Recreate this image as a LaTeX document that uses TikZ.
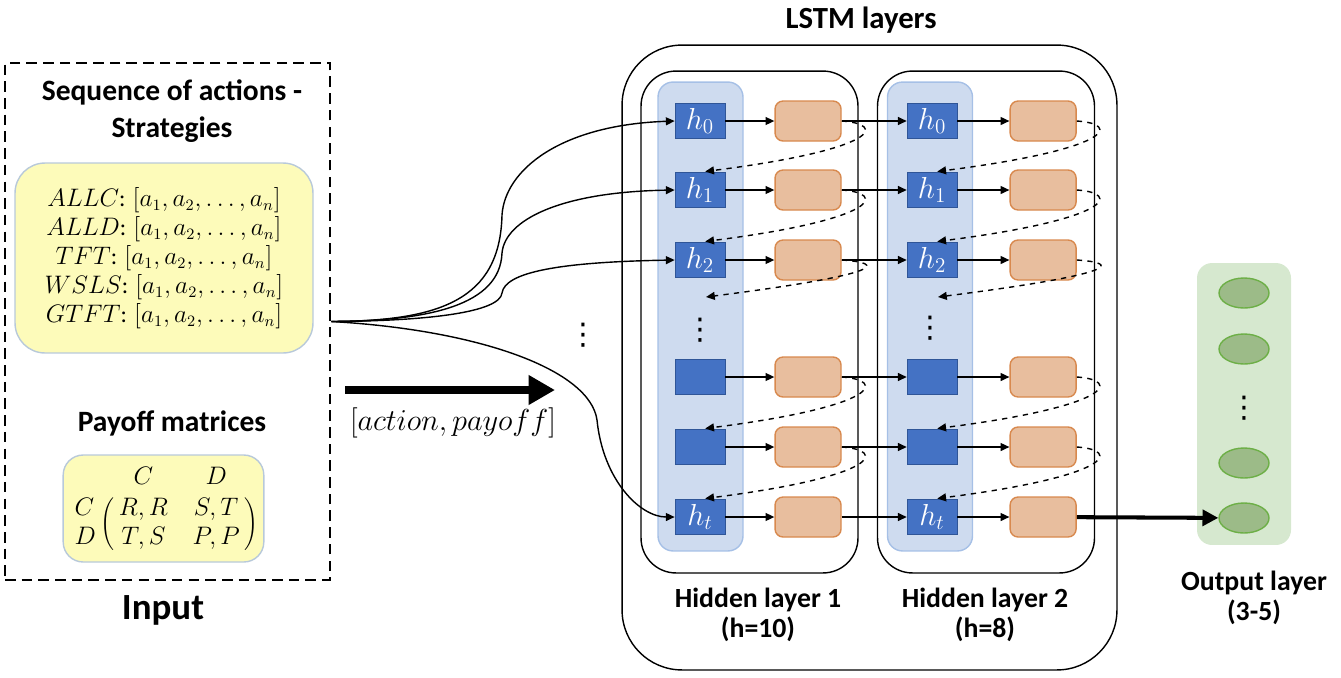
\documentclass[tikz,border=0pt]{standalone}
\usepackage[no-math]{fontspec}
\setmainfont{Carlito}
\newfontfamily\dotsfont{DejaVu Sans}
\usetikzlibrary{positioning, shapes, calc, arrows.meta}

\definecolor{hblue}{HTML}{4472C4}
\definecolor{hborder}{HTML}{2F5597}
\definecolor{colfill}{HTML}{CEDBEF}
\definecolor{coldraw}{HTML}{A6C0E6}
\definecolor{cellfill}{HTML}{E8BE9E}
\definecolor{celldraw}{HTML}{D8894E}
\definecolor{stratfill}{HTML}{FDFBBA}
\definecolor{stratdraw}{HTML}{B8C9DA}
\definecolor{outfill}{HTML}{D6E8CF}
\definecolor{unitfill}{HTML}{9CBB88}
\definecolor{unitdraw}{HTML}{6DAF47}

\begin{document}
\begin{tikzpicture}[x=0.02cm, y=-0.02cm,
                    >={Triangle[length=5pt, width=4.5pt]},
                    hunit/.style={rectangle, fill=hblue, draw=hborder, minimum width=1cm, minimum height=0.7cm, inner sep=0pt, text=white, font=\fontsize{18}{18}\selectfont},
                    cell/.style={rectangle, rounded corners=0.16cm, fill=cellfill, draw=celldraw, line width=0.8pt, minimum width=1.32cm, minimum height=0.8cm},
                    column/.style={rectangle, rounded corners=0.3cm, fill=colfill, draw=coldraw, line width=0.8pt, minimum width=1.7cm, minimum height=9.38cm},
                    layer/.style={rectangle, draw, rounded corners=0.7cm, line width=0.8pt, minimum width=4.34cm, minimum height=10.04cm},
                    strat/.style={rectangle, rounded corners=0.6cm, fill=stratfill, draw=stratdraw, line width=0.8pt, align=center},
                    unit/.style={ellipse, fill=unitfill, draw=unitdraw, line width=0.8pt, minimum width=1cm, minimum height=0.6cm},
                    vdotsmark/.style={font=\dotsfont\fontsize{17}{17}\selectfont, inner sep=0pt},
                    title/.style={font=\fontsize{16.8}{21}\selectfont\bfseries, align=center},
                    caption/.style={font=\fontsize{15.8}{17}\selectfont\bfseries, align=center}]

    \useasboundingbox (0,0) rectangle (1341,677);

    % Nodes
    \node[draw, line width=1.5pt, dash pattern=on 6pt off 3.5pt, minimum width=6.5cm, minimum height=10.34cm] (input) at (167.5,321.5) {};
    \node[title] (seqtitle) at (172,111) {Sequence of actions -\\Strategies};
    \node[strat, minimum width=5.96cm, minimum height=3.8cm, font=\fontsize{13.5}{16.5}\selectfont] (strategies) at (164,258)
        {$ALLC$: $[a_1, a_2, \dots, a_n]$\\
         $ALLD$: $[a_1, a_2, \dots, a_n]$\\
         $TFT$: $[a_1, a_2, \dots, a_n]$\\
         $WSLS$: $[a_1, a_2, \dots, a_n]$\\
         $GTFT$: $[a_1, a_2, \dots, a_n]$};
    \node[title] (paytitle) at (172,423) {Payoff matrices};
    \node[strat, rounded corners=0.4cm, minimum width=3.58cm, minimum height=2.14cm, font=\fontsize{14}{16}\selectfont] (payoff) at (163.5,508.5)
        {$\bordermatrix{ & C & D \cr C & R,R & S,T \cr D & T,S & P,P}$};
    \node[font=\fontsize{21}{21}\selectfont\bfseries] (inputlabel) at (163,610) {Input};

    \coordinate (feedstart) at (345,390);
    \coordinate (feedend) at (555,390);
    \node[font=\fontsize{16}{16}\selectfont] (feedlabel) at (453,423) {$[action, payoff]$};
    \node[vdotsmark] (moredots) at (583,335) {⋮};

    \node[title, font=\fontsize{17.5}{21}\selectfont\bfseries] (lstmtitle) at (861,20) {LSTM layers};
    \node[draw, rounded corners=1.2cm, line width=0.8pt, minimum width=9.9cm, minimum height=12.5cm] (lstm) at (869.5,357.5) {};
    \node[layer] (hidden1) at (749.5,322) {};
    \node[layer] (hidden2) at (986,322) {};
    \node[column] (col1) at (700.5,316.5) {};
    \node[column] (col2) at (930,316.5) {};
    \node[caption] (hid1title) at (758,615) {Hidden layer 1\\(h=10)};
    \node[caption] (hid2title) at (985,615) {Hidden layer 2\\(h=8)};

    \node[hunit] (h10) at (700,121) {$h_0$};
    \node[hunit] (h11) at (700,190) {$h_1$};
    \node[hunit] (h12) at (700,260) {$h_2$};
    \node[vdotsmark] (dots1) at (700,330) {⋮};
    \node[hunit] (h13) at (700,377) {};
    \node[hunit] (h14) at (700,447) {};
    \node[hunit] (h1t) at (700,517) {$h_t$};
    \coordinate (gap1) at (706,297);

    \node[cell, right=0.98cm of h10] (c10) {};
    \node[cell, right=0.98cm of h11] (c11) {};
    \node[cell, right=0.98cm of h12] (c12) {};
    \node[cell, right=0.98cm of h13] (c13) {};
    \node[cell, right=0.98cm of h14] (c14) {};
    \node[cell, right=0.98cm of h1t] (c1t) {};

    \node[hunit, right=1.3cm of c10] (h20) {$h_0$};
    \node[hunit, right=1.3cm of c11] (h21) {$h_1$};
    \node[hunit, right=1.3cm of c12] (h22) {$h_2$};
    \node[vdotsmark] (dots2) at (930,328) {⋮};
    \node[hunit, right=1.3cm of c13] (h23) {};
    \node[hunit, right=1.3cm of c14] (h24) {};
    \node[hunit, right=1.3cm of c1t] (h2t) {$h_t$};
    \coordinate (gap2) at (938,297);

    \node[cell, right=1.04cm of h20] (c20) {};
    \node[cell, right=1.04cm of h21] (c21) {};
    \node[cell, right=1.04cm of h22] (c22) {};
    \node[cell, right=1.04cm of h23] (c23) {};
    \node[cell, right=1.04cm of h24] (c24) {};
    \node[cell, right=1.04cm of h2t] (c2t) {};

    \node[rectangle, rounded corners=0.3cm, fill=outfill, minimum width=1.88cm, minimum height=5.64cm] (outcol) at (1244,404) {};
    \node[unit] (o1) at (1244,293) {};
    \node[unit] (o2) at (1244,349) {};
    \node[vdotsmark] (odots) at (1244,408) {⋮};
    \node[unit] (o4) at (1244,463) {};
    \node[unit] (o5) at (1244,518) {};
    \node[caption] (outtitle) at (1254,598) {Output layer\\(3-5)};

    % Paths
    \draw[-{Triangle[length=15pt, width=16pt]}, line width=4.5pt] (feedstart) -- (feedend);
    \draw[->, thick] (input.east) .. controls (440,321) and (500,300) .. (502,215) .. controls (505,170) and (560,125) .. (h10.west);
    \draw[->, thick] (input.east) .. controls (430,321) and (500,305) .. (502,253) .. controls (505,220) and (560,192) .. (h11.west);
    \draw[->, thick] (input.east) .. controls (430,321) and (500,312) .. (502,293) .. controls (505,272) and (560,262) .. (h12.west);
    \draw[->, thick] (input.east) .. controls (480,330) and (590,370) .. (597,420) .. controls (603,480) and (640,517) .. (h1t.west);

    \draw[->, thick] (h10) -- (c10);
    \draw[->, thick] (h11) -- (c11);
    \draw[->, thick] (h12) -- (c12);
    \draw[->, thick] (h13) -- (c13);
    \draw[->, thick] (h14) -- (c14);
    \draw[->, thick] (h1t) -- (c1t);

    \draw[->, thick] (c10) -- (h20);
    \draw[->, thick] (c11) -- (h21);
    \draw[->, thick] (c12) -- (h22);
    \draw[->, thick] (c13) -- (h23);
    \draw[->, thick] (c14) -- (h24);
    \draw[->, thick] (c1t) -- (h2t);

    \draw[->, thick] (h20) -- (c20);
    \draw[->, thick] (h21) -- (c21);
    \draw[->, thick] (h22) -- (c22);
    \draw[->, thick] (h23) -- (c23);
    \draw[->, thick] (h24) -- (c24);
    \draw[->, thick] (h2t) -- (c2t);

    \draw[->, thick, dashed, shorten >=3pt] (c10.east) .. controls +(45,3) and +(180,-23) .. (h11.north);
    \draw[->, thick, dashed, shorten >=3pt] (c11.east) .. controls +(45,3) and +(180,-23) .. (h12.north);
    \draw[->, thick, dashed] (c12.east) .. controls +(45,3) and +(180,-23) .. (gap1);
    \draw[->, thick, dashed, shorten >=3pt] (c13.east) .. controls +(45,3) and +(180,-23) .. (h14.north);
    \draw[->, thick, dashed, shorten >=3pt] (c14.east) .. controls +(45,3) and +(180,-23) .. (h1t.north);

    \draw[->, thick, dashed, shorten >=3pt] (c20.east) .. controls +(45,3) and +(180,-23) .. (h21.north);
    \draw[->, thick, dashed, shorten >=3pt] (c21.east) .. controls +(45,3) and +(180,-23) .. (h22.north);
    \draw[->, thick, dashed] (c22.east) .. controls +(45,3) and +(180,-23) .. (gap2);
    \draw[->, thick, dashed, shorten >=3pt] (c23.east) .. controls +(45,3) and +(180,-23) .. (h24.north);
    \draw[->, thick, dashed, shorten >=3pt] (c24.east) .. controls +(45,3) and +(180,-23) .. (h2t.north);

    \draw[-{Triangle[length=9pt, width=9pt]}, line width=2.3pt] (c2t) -- (o5);

\end{tikzpicture}
\end{document}
